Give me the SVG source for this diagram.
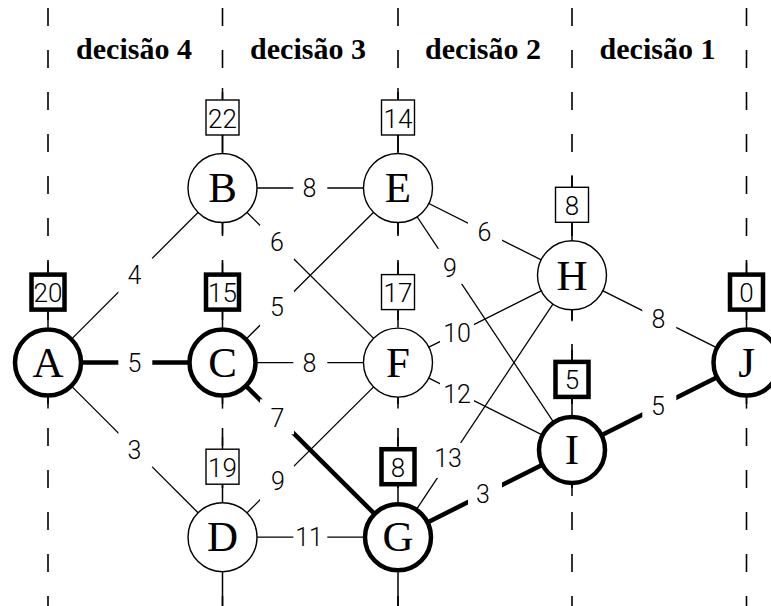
<svg xmlns="http://www.w3.org/2000/svg" width="771" height="606" viewBox="0 0 771 606">
<style>
.col{stroke:#000;stroke-width:1.6;stroke-dasharray:18 24;fill:none}
.e{stroke:#000;stroke-width:1.3;fill:none}
.eb{stroke:#000;stroke-width:4.5;fill:none}
.lb{fill:#fff;stroke:none}
.lt{font-family:Roboto,"Liberation Sans",Arial,sans-serif;font-weight:300;font-size:25px;text-anchor:middle;fill:#000}
.hd{font-family:"Liberation Serif","Times New Roman",serif;font-weight:bold;font-size:30px;text-anchor:middle;fill:#000}
.n{fill:#fff;stroke:#000;stroke-width:1.4}
.nb{fill:#fff;stroke:#000;stroke-width:4.5}
.st{stroke:#000;stroke-width:1.5}
.nl{font-family:"Liberation Serif","Times New Roman",serif;font-size:43px;text-anchor:middle;fill:#000}
.bx{font-family:Roboto,"Liberation Sans",Arial,sans-serif;font-weight:300;font-size:26px;text-anchor:middle;fill:#000}
</style>
<rect width="771" height="606" fill="#fff"/>
<g id="columns">
<line class="col" x1="48" y1="8" x2="48" y2="606"/>
<line class="col" x1="222.5" y1="8" x2="222.5" y2="606"/>
<line class="col" x1="398" y1="8" x2="398" y2="606"/>
<line class="col" x1="572" y1="8" x2="572" y2="606"/>
<line class="col" x1="746.5" y1="8" x2="746.5" y2="606"/>
</g>
<g id="headers">
<text class="hd" x="134" y="59">decisão 4</text>
<text class="hd" x="308" y="59">decisão 3</text>
<text class="hd" x="483" y="59">decisão 2</text>
<text class="hd" x="657.5" y="59">decisão 1</text>
</g>
<g id="connectors">
<line class="e" x1="48" y1="362.6" x2="222.5" y2="188"/>
<line class="eb" x1="48" y1="362.6" x2="222.5" y2="362.6"/>
<line class="e" x1="48" y1="362.6" x2="222.5" y2="537.2"/>
<line class="e" x1="222.5" y1="188" x2="398" y2="188"/>
<line class="e" x1="222.5" y1="188" x2="398" y2="362.6"/>
<line class="e" x1="222.5" y1="362.6" x2="398" y2="188"/>
<line class="e" x1="222.5" y1="362.6" x2="398" y2="362.6"/>
<line class="eb" x1="222.5" y1="362.6" x2="398" y2="537.2"/>
<line class="e" x1="222.5" y1="537.2" x2="398" y2="362.6"/>
<line class="e" x1="222.5" y1="537.2" x2="398" y2="537.2"/>
<line class="e" x1="398" y1="188" x2="572" y2="275.3"/>
<line class="e" x1="398" y1="188" x2="572" y2="449.9"/>
<line class="e" x1="398" y1="362.6" x2="572" y2="275.3"/>
<line class="e" x1="398" y1="362.6" x2="572" y2="449.9"/>
<line class="e" x1="398" y1="537.2" x2="572" y2="275.3"/>
<line class="eb" x1="398" y1="537.2" x2="572" y2="449.9"/>
<line class="e" x1="572" y1="275.3" x2="746.5" y2="362.6"/>
<line class="eb" x1="572" y1="449.9" x2="746.5" y2="362.6"/>
<g id="label-bg">
<rect class="lb" x="118.3" y="257.8" width="34" height="35"/>
<rect class="lb" x="118.3" y="345.1" width="34" height="35"/>
<rect class="lb" x="118.3" y="432.4" width="34" height="35"/>
<rect class="lb" x="293.3" y="170.5" width="34" height="35"/>
<rect class="lb" x="260" y="224.7" width="34" height="35"/>
<rect class="lb" x="260" y="290.9" width="34" height="35"/>
<rect class="lb" x="293.3" y="345.1" width="34" height="35"/>
<rect class="lb" x="260" y="399.3" width="34" height="35"/>
<rect class="lb" x="260" y="465.5" width="34" height="35"/>
<rect class="lb" x="293.3" y="519.7" width="34" height="35"/>
<rect class="lb" x="468" y="214.2" width="34" height="35"/>
<rect class="lb" x="433" y="248.8" width="34" height="35"/>
<rect class="lb" x="440" y="315.5" width="34" height="35"/>
<rect class="lb" x="440" y="374.7" width="34" height="35"/>
<rect class="lb" x="432" y="442.9" width="34" height="35"/>
<rect class="lb" x="468" y="476" width="34" height="35"/>
<rect class="lb" x="642.3" y="301.5" width="34" height="35"/>
<rect class="lb" x="642.3" y="388.7" width="34" height="35"/>
</g>
<g id="labels">
<text class="lt" x="134.5" y="284.3">4</text>
<text class="lt" x="134.5" y="371.6">5</text>
<text class="lt" x="134.5" y="458.9">3</text>
<text class="lt" x="309.5" y="197">8</text>
<text class="lt" x="277" y="251.2">6</text>
<text class="lt" x="277" y="315.5">5</text>
<text class="lt" x="309.5" y="371.6">8</text>
<text class="lt" x="277.5" y="427">7</text>
<text class="lt" x="278" y="490">9</text>
<text class="lt" x="309" y="546.2">11</text>
<text class="lt" x="484.5" y="240.7">6</text>
<text class="lt" x="450" y="277">9</text>
<text class="lt" x="457" y="342">10</text>
<text class="lt" x="457" y="402.5">12</text>
<text class="lt" x="448" y="466.5">13</text>
<text class="lt" x="483" y="503">3</text>
<text class="lt" x="658.5" y="328">8</text>
<text class="lt" x="658" y="415">5</text>
</g>
</g>
<g id="A" transform="translate(48,362.6)">
<line class="st" x1="0" y1="-100" x2="0" y2="-88"/><line class="st" x1="0" y1="-53" x2="0" y2="-35"/><line class="st" x1="0" y1="35" x2="0" y2="46"/>
<rect class="nb" x="-16.5" y="-88" width="33" height="35"/><text class="bx" x="0" y="-60.5">20</text>
<circle class="nb" r="33"/><text class="nl" x="0" y="14.2">A</text>
</g>
<g id="B" transform="translate(222.5,188)">
<line class="st" x1="0" y1="-100" x2="0" y2="-88"/><line class="st" x1="0" y1="-53" x2="0" y2="-35"/><line class="st" x1="0" y1="35" x2="0" y2="46"/>
<rect class="n" x="-16.5" y="-88" width="33" height="35"/><text class="bx" x="0" y="-60.5">22</text>
<circle class="n" r="34.5"/><text class="nl" x="0" y="14.2">B</text>
</g>
<g id="C" transform="translate(222.5,362.6)">
<line class="st" x1="0" y1="-100" x2="0" y2="-88"/><line class="st" x1="0" y1="-53" x2="0" y2="-35"/><line class="st" x1="0" y1="35" x2="0" y2="46"/>
<rect class="nb" x="-16.5" y="-88" width="33" height="35"/><text class="bx" x="0" y="-60.5">15</text>
<circle class="nb" r="33"/><text class="nl" x="0" y="14.2">C</text>
</g>
<g id="D" transform="translate(222.5,537.2)">
<line class="st" x1="0" y1="-100" x2="0" y2="-88"/><line class="st" x1="0" y1="-53" x2="0" y2="-35"/><line class="st" x1="0" y1="35" x2="0" y2="70"/>
<rect class="n" x="-16.5" y="-88" width="33" height="35"/><text class="bx" x="0" y="-60.5">19</text>
<circle class="n" r="34.5"/><text class="nl" x="0" y="14.2">D</text>
</g>
<g id="E" transform="translate(398,188)">
<line class="st" x1="0" y1="-100" x2="0" y2="-88"/><line class="st" x1="0" y1="-53" x2="0" y2="-35"/><line class="st" x1="0" y1="35" x2="0" y2="46"/>
<rect class="n" x="-16.5" y="-88" width="33" height="35"/><text class="bx" x="0" y="-60.5">14</text>
<circle class="n" r="34.5"/><text class="nl" x="0" y="14.2">E</text>
</g>
<g id="F" transform="translate(398,362.6)">
<line class="st" x1="0" y1="-100" x2="0" y2="-88"/><line class="st" x1="0" y1="-53" x2="0" y2="-35"/><line class="st" x1="0" y1="35" x2="0" y2="46"/>
<rect class="n" x="-16.5" y="-88" width="33" height="35"/><text class="bx" x="0" y="-60.5">17</text>
<circle class="n" r="34.5"/><text class="nl" x="0" y="14.2">F</text>
</g>
<g id="G" transform="translate(398,537.2)">
<line class="st" x1="0" y1="-100" x2="0" y2="-88"/><line class="st" x1="0" y1="-53" x2="0" y2="-35"/><line class="st" x1="0" y1="35" x2="0" y2="70"/>
<rect class="nb" x="-16.5" y="-88" width="33" height="35"/><text class="bx" x="0" y="-60.5">8</text>
<circle class="nb" r="33"/><text class="nl" x="0" y="14.2">G</text>
</g>
<g id="H" transform="translate(572,275.3)">
<line class="st" x1="0" y1="-100" x2="0" y2="-88"/><line class="st" x1="0" y1="-53" x2="0" y2="-35"/><line class="st" x1="0" y1="35" x2="0" y2="46"/>
<rect class="n" x="-16.5" y="-88" width="33" height="35"/><text class="bx" x="0" y="-60.5">8</text>
<circle class="n" r="34.5"/><text class="nl" x="0" y="14.2">H</text>
</g>
<g id="I" transform="translate(572,449.9)">
<line class="st" x1="0" y1="-100" x2="0" y2="-88"/><line class="st" x1="0" y1="-53" x2="0" y2="-35"/><line class="st" x1="0" y1="35" x2="0" y2="46"/>
<rect class="nb" x="-16.5" y="-88" width="33" height="35"/><text class="bx" x="0" y="-60.5">5</text>
<circle class="nb" r="33"/><text class="nl" x="0" y="14.2">I</text>
</g>
<g id="J" transform="translate(746.5,362.6)">
<line class="st" x1="0" y1="-100" x2="0" y2="-88"/><line class="st" x1="0" y1="-53" x2="0" y2="-35"/><line class="st" x1="0" y1="35" x2="0" y2="46"/>
<rect class="nb" x="-16.5" y="-88" width="33" height="35"/><text class="bx" x="0" y="-60.5">0</text>
<circle class="nb" r="33"/><text class="nl" x="0" y="14.2">J</text>
</g>
</svg>
